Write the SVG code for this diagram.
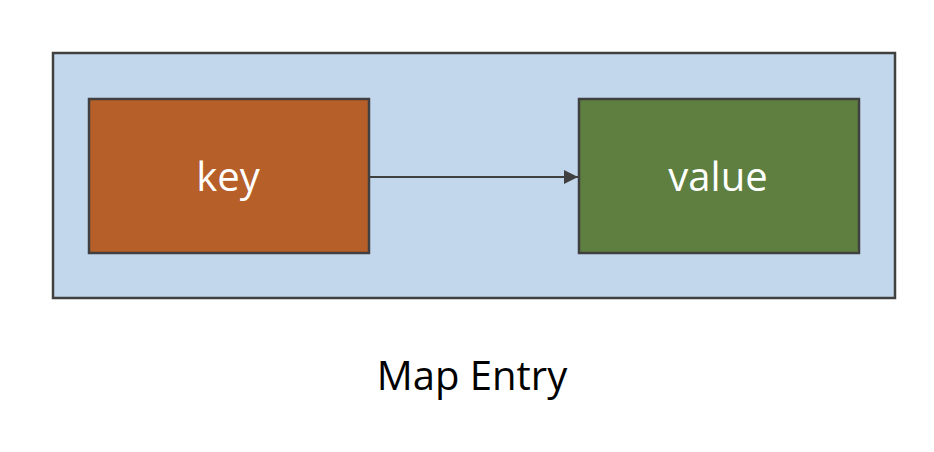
<svg xmlns="http://www.w3.org/2000/svg" width="934" height="452" viewBox="0 0 934 452">
<style>
.box{stroke:#404040;stroke-width:2.5}
.lbl{font-family:"Open Sans","Liberation Sans",sans-serif;font-size:40px;fill:#ffffff;text-anchor:middle;dominant-baseline:central}
.conn{stroke:#404040;stroke-width:2;fill:none}
</style>
<defs>
<marker id="arr" markerWidth="14" markerHeight="14" refX="14" refY="7" orient="auto" markerUnits="userSpaceOnUse">
<path d="M0,0 L14,7 L0,14 Z" fill="#404040"/>
</marker>
</defs>
<rect width="934" height="452" fill="#ffffff"/>
<g id="entry">
<rect class="box" x="53" y="53" width="842" height="245" fill="#c3d7ec"/>
</g>
<g id="key">
<rect class="box" x="89" y="99" width="280" height="154" fill="#b75f28"/>
<text class="lbl" x="228" y="175">key</text>
</g>
<g id="value">
<rect class="box" x="579" y="99" width="280" height="154" fill="#5e7f3f"/>
<text class="lbl" x="718" y="175">value</text>
</g>
<g id="connectors">
<line class="conn" x1="370" y1="177" x2="578" y2="177" marker-end="url(#arr)"/>
</g>
<text x="472" y="374" font-family="Open Sans, Liberation Sans, sans-serif" font-size="40" fill="#000000" text-anchor="middle" dominant-baseline="central">Map Entry</text>
</svg>
